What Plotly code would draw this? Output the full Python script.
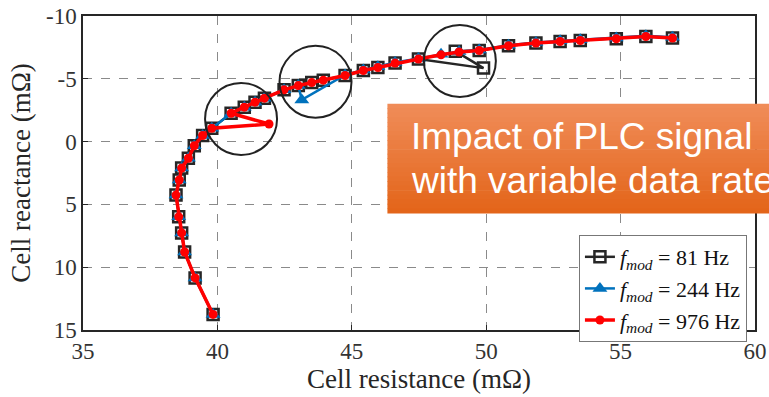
import plotly.graph_objects as go

# ---------------- data ----------------
# red series (976 Hz), including its outlier after the 12th point
r976 = [39.84, 39.17, 38.78, 38.67, 38.56, 38.46, 38.58, 38.67, 38.92, 39.14, 39.45, 39.79,
        41.92,
        40.51, 41.00, 41.40, 41.75, 42.48, 43.01, 43.51, 43.94, 44.75, 45.43, 45.97, 46.61,
        47.48, 48.32, 48.99, 49.74, 50.83, 51.85, 52.75, 53.50, 54.84, 55.94, 56.93]
x976 = [13.76, 10.85, 8.79, 7.27, 5.99, 4.26, 3.06, 2.11, 1.33, 0.33, -0.49, -1.06,
        -1.40,
        -2.26, -2.74, -3.14, -3.46, -4.12, -4.46, -4.70, -4.89, -5.26, -5.66, -5.90, -6.25,
        -6.57, -6.91, -7.13, -7.25, -7.63, -7.85, -7.97, -8.05, -8.19, -8.37, -8.24]

# black series (81 Hz)
r81 = [39.84, 39.17, 38.78, 38.67, 38.56, 38.46, 38.58, 38.67, 38.92, 39.14, 39.45, 39.79,
       40.51, 41.00, 41.40, 41.75, 42.48, 43.01, 43.51, 43.94, 44.75, 45.43, 45.97, 46.61,
       47.48, 49.90, 48.85, 49.74, 50.83, 51.85, 52.75, 53.50, 54.84, 55.94, 56.93]
x81 = [13.76, 10.85, 8.79, 7.27, 5.99, 4.26, 3.06, 2.11, 1.33, 0.33, -0.49, -1.06,
       -2.26, -2.74, -3.14, -3.46, -4.12, -4.46, -4.70, -4.89, -5.26, -5.66, -5.90, -6.25,
       -6.57, -5.85, -7.20, -7.25, -7.63, -7.85, -7.97, -8.05, -8.19, -8.37, -8.24]

# blue series (244 Hz)
r244 = [39.84, 39.17, 38.78, 38.67, 38.56, 38.46, 38.58, 38.67, 38.92, 39.14, 39.45, 39.79,
        40.51, 41.00, 41.40, 41.75, 42.48, 43.01, 43.14, 44.75, 45.43, 45.97, 46.61,
        47.48, 48.32, 48.99, 49.74, 50.83, 51.85, 52.75, 53.50, 54.84, 55.94, 56.93]
x244 = [13.76, 10.85, 8.79, 7.27, 5.99, 4.26, 3.06, 2.11, 1.33, 0.33, -0.49, -1.06,
        -2.26, -2.74, -3.14, -3.46, -4.12, -4.46, -3.32, -5.30, -5.70, -5.95, -6.30,
        -6.62, -6.96, -7.18, -7.30, -7.68, -7.90, -8.02, -8.10, -8.24, -8.42, -8.30]

series_names = ["<i>f</i><sub><i>mod</i></sub> = 81 Hz",
                "<i>f</i><sub><i>mod</i></sub> = 244 Hz",
                "<i>f</i><sub><i>mod</i></sub> = 976 Hz"]

x_ticks = [35, 40, 45, 50, 55, 60]
y_ticks = [-10, -5, 0, 5, 10, 15]
y_ticktext = ["-10", "-5", "0", "5", "10", "15"]

# highlighted regions (centres of the black circles)
circle_r = [40.88, 43.65, 49.02]
circle_x = [-1.80, -4.76, -6.41]

box_lines = ["Impact of PLC signal", "with variable data rate"]

# ---------------- figure ----------------
SERIF = "Liberation Serif, Times New Roman, serif"
fig = go.Figure()

fig.add_trace(go.Scatter(
    x=r81, y=x81, mode="lines+markers", name=series_names[0],
    line=dict(color="#262626", width=2.5),
    marker=dict(symbol="square-open", size=11, color="#262626", line=dict(width=2.5, color="#262626")),
))
fig.add_trace(go.Scatter(
    x=r244, y=x244, mode="lines+markers", name=series_names[1],
    line=dict(color="#0072BD", width=2.5),
    marker=dict(symbol="triangle-up", size=13, color="#0072BD"),
))
fig.add_trace(go.Scatter(
    x=r976, y=x976, mode="lines+markers", name=series_names[2],
    line=dict(color="#FF0000", width=3.5),
    marker=dict(symbol="circle", size=9, color="#FF0000"),
))

shapes = []
for cx, cy in zip(circle_r, circle_x):
    shapes.append(dict(type="circle", xref="x", yref="y", xsizemode="pixel", ysizemode="pixel",
                       xanchor=cx, yanchor=cy, x0=-36, x1=36, y0=-36, y1=36,
                       line=dict(color="#222222", width=2), layer="above"))

# orange gradient box
y_bot, y_top = 0.3717, 0.7197
n = 24
c_top = (240, 140, 88)
c_bot = (227, 101, 26)
for i in range(n):
    t = i / (n - 1)
    col = tuple(int(round(c_top[k] + (c_bot[k] - c_top[k]) * t)) for k in range(3))
    yy1 = y_top - (y_top - y_bot) * i / n
    yy0 = y_top - (y_top - y_bot) * (i + 1) / n
    shapes.append(dict(type="rect", xref="paper", yref="paper", x0=0.453, x1=1.03,
                       y0=yy0 - 0.001, y1=yy1 + 0.001,
                       fillcolor="rgb(%d,%d,%d)" % col, line=dict(width=0), layer="above"))

annotations = [
    dict(text=box_lines[0], xref="paper", yref="paper", x=0.4856, y=0.616, xanchor="left",
         yanchor="middle", showarrow=False,
         font=dict(family="Liberation Sans, Arial, sans-serif", size=37, color="white")),
    dict(text=box_lines[1], xref="paper", yref="paper", x=0.4856, y=0.476, xanchor="left",
         yanchor="middle", showarrow=False,
         font=dict(family="Liberation Sans, Arial, sans-serif", size=37, color="white")),
]

fig.update_layout(
    width=769, height=397,
    margin=dict(l=83, r=14, t=16, b=67),
    paper_bgcolor="white", plot_bgcolor="white",
    font=dict(family=SERIF, size=23, color="#262626"),
    shapes=shapes, annotations=annotations,
    showlegend=True,
    legend=dict(x=0.988, y=0.3025, xanchor="right", yanchor="top",
                bgcolor="white", bordercolor="#777777", borderwidth=1,
                font=dict(family=SERIF, size=22, color="#111111"),
                itemwidth=30, tracegroupgap=0),
)

fig.update_xaxes(
    range=[35, 60], tickvals=x_ticks, ticktext=[str(v) for v in x_ticks],
    showgrid=True, gridcolor="#8a8a8a", griddash="dash", gridwidth=1,
    showline=True, linecolor="#262626", linewidth=1.5, mirror=True,
    ticks="inside", ticklen=5, tickcolor="#262626",
    zeroline=False, automargin=False,
    tickfont=dict(family=SERIF, size=23, color="#333333"),
    title=dict(text="Cell resistance (mΩ)", font=dict(family=SERIF, size=27, color="#262626"), standoff=4),
)
fig.update_yaxes(
    range=[15, -10], autorange=False, tickvals=y_ticks, ticktext=y_ticktext,
    showgrid=True, gridcolor="#8a8a8a", griddash="dash", gridwidth=1,
    showline=True, linecolor="#262626", linewidth=1.5, mirror=True,
    ticks="inside", ticklen=5, tickcolor="#262626",
    zeroline=False, automargin=False,
    tickfont=dict(family=SERIF, size=23, color="#333333"),
    title=dict(text="Cell reactance (mΩ)", font=dict(family=SERIF, size=27, color="#262626"), standoff=8),
)

fig.write_html("out.html", config={"displayModeBar": False},
               post_script="document.body.style.margin='0px';")
